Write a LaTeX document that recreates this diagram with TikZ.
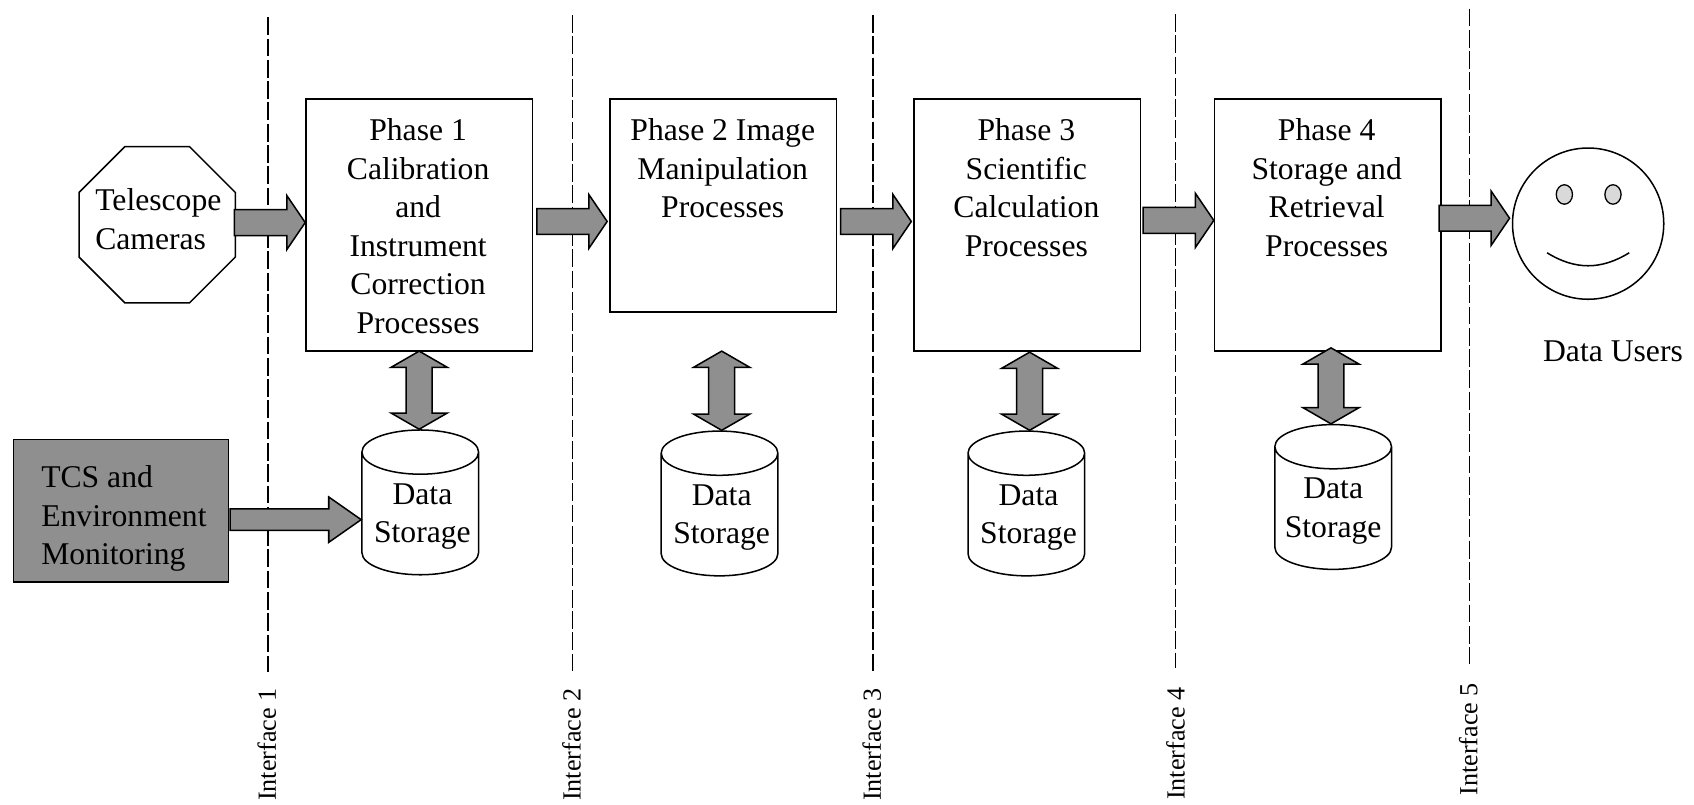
\documentclass[tikz,border=0pt]{standalone}
\usepackage{fontspec}
\setmainfont{Liberation Serif}
\usepackage{xcolor}
\usetikzlibrary{positioning}
\usetikzlibrary{calc}
\usetikzlibrary{shapes.geometric}
\definecolor{blockgray}{gray}{0.56}
\newcommand{\hblockarrow}[5]{
  \draw [blockline] let \p1=(#1), \p2=(#2) in
    (\x1,\y1+#3pt) -- (\x2-#5pt,\y1+#3pt) -- (\x2-#5pt,\y1+#4pt) -- (\x2,\y1)
    -- (\x2-#5pt,\y1-#4pt) -- (\x2-#5pt,\y1-#3pt) -- (\x1,\y1-#3pt) -- cycle;
}
\newcommand{\vblockarrow}[2]{
  \draw [blockline] let \p1=(#1), \p2=(#2) in
    (\x1,\y1) -- (\x1+26pt,\y1-15pt) -- (\x1+12pt,\y1-15pt) -- (\x1+12pt,\y2+15pt)
    -- (\x1+26pt,\y2+15pt) -- (\x1,\y2) -- (\x1-26pt,\y2+15pt) -- (\x1-12pt,\y2+15pt)
    -- (\x1-12pt,\y1-15pt) -- (\x1-26pt,\y1-15pt) -- cycle;
}

\begin{document}
\begin{tikzpicture}
  [
    x=1pt, y=-1pt,
    font=\fontsize{29.3}{35.7}\selectfont,
    phasebox/.style={
       draw=black,
       fill=white,
       line width=1.4pt,
       minimum width=209.5pt,
       anchor=north west,
       inner sep=0pt
    },
    phasetext/.style={
       align=center,
       anchor=north,
       inner sep=0pt
    },
    store/.style={
       cylinder,
       shape border rotate=90,
       shape aspect=0.74,
       anchor=shape center,
       draw=black,
       fill=white,
       line width=1.4pt,
       minimum height=134pt,
       minimum width=108pt,
       inner sep=0pt
    },
    storetext/.style={
       align=center,
       inner sep=0pt
    },
    blockline/.style={
       draw=black,
       fill=blockgray,
       line width=1.4pt,
       line join=miter
    },
    iface/.style={
       draw=black,
       line width=1.2pt,
       dash pattern=on 16.5pt off 3.2pt
    },
    ifacetext/.style={
       font=\fontsize{24.2}{29}\selectfont,
       rotate=90,
       anchor=east,
       inner sep=0pt
    },
    eye/.style={
       ellipse,
       draw=black,
       fill=black!15,
       line width=1.2pt,
       minimum width=15pt,
       minimum height=18pt,
       inner sep=0pt
    }
  ]
  \useasboundingbox (0,0) rectangle (1568,744.2);

  \coordinate (if1top) at ( 248,16);
  \coordinate (if1bot) at ( 248,622);
  \coordinate (if2top) at ( 530,14);
  \coordinate (if2bot) at ( 530,622);
  \coordinate (if3top) at ( 808,14);
  \coordinate (if3bot) at ( 808,622);
  \coordinate (if4top) at (1088,13);
  \coordinate (if4bot) at (1088,618);
  \coordinate (if5top) at (1360,8);
  \coordinate (if5bot) at (1360,615);
  \draw [iface] (if1top) -- (if1bot);
  \draw [iface] (if2top) -- (if2bot);
  \draw [iface] (if3top) -- (if3bot);
  \draw [iface] (if4top) -- (if4bot);
  \draw [iface] (if5top) -- (if5bot);

  \node (if1) at ( 247,637) [ifacetext] {Interface 1};
  \node (if2) at ( 529,637) [ifacetext] {Interface 2};
  \node (if3) at ( 807,637) [ifacetext] {Interface 3};
  \node (if4) at (1088,636) [ifacetext] {Interface 4};
  \node (if5) at (1359,632) [ifacetext] {Interface 5};

  \node (camera) at (145.5,208) [regular polygon, regular polygon sides=8, minimum size=156.5pt,
       draw=black, fill=white, line width=1.4pt, inner sep=0pt] {};
  \node (cameratext) at (88,203) [anchor=west, align=left, inner sep=0pt] {Telescope\\Cameras};

  \node (tcs) at (12,406) [anchor=north west, draw=black, fill=blockgray, line width=1.4pt,
       minimum width=199pt, minimum height=132pt, inner sep=0pt] {};
  \node (tcstext) at (38,480) [anchor=west, align=left, inner sep=0pt] {TCS and\\Environment\\Monitoring};

  \node (phase1) at ( 282.5,91) [phasebox, minimum height=233pt] {};
  \node (phase2) at ( 564,91) [phasebox, minimum height=197pt] {};
  \node (phase3) at ( 845.5,91) [phasebox, minimum height=233pt] {};
  \node (phase4) at (1123.5,91) [phasebox, minimum height=233pt] {};

  \node (phase1text) at ( 387,109.5) [phasetext] {Phase 1\\Calibration\\and\\Instrument\\Correction\\Processes};
  \node (phase2text) at ( 669,109.5) [phasetext] {Phase 2 Image\\Manipulation\\Processes};
  \node (phase3text) at ( 950,109.5) [phasetext] {Phase 3\\Scientific\\Calculation\\Processes};
  \node (phase4text) at (1228,109.5) [phasetext] {Phase 4\\Storage and\\Retrieval\\Processes};

  \node (store1) at ( 389,465) [store] {\phantom{Data}};
  \node (store2) at ( 666,466) [store] {\phantom{Data}};
  \node (store3) at ( 950,466) [store] {\phantom{Data}};
  \node (store4) at (1234,460) [store] {\phantom{Data}};

  \node (store1text) at ( 391,478) [storetext] {Data\\Storage};
  \node (store2text) at ( 668,479) [storetext] {Data\\Storage};
  \node (store3text) at ( 952,479) [storetext] {Data\\Storage};
  \node (store4text) at (1234,473) [storetext] {Data\\Storage};

  \node (users) at (1470,207) [circle, draw=black, fill=white, line width=1.4pt,
       minimum size=140pt, inner sep=0pt] {};
  \node (lefteye)  at (1448,180) [eye] {};
  \node (righteye) at (1493,180) [eye] {};
  \coordinate (mouthl) at (1432,234);
  \coordinate (mouthr) at (1508,234);
  \draw [line width=1.4pt] (mouthl) .. controls (1458,250) and (1482,250) .. (mouthr);
  \node (userstext) at (1493,325) [inner sep=0pt] {Data Users};

  \coordinate (out1) at (217,206);
  \coordinate (out2) at (497,205);
  \coordinate (out3) at (778,205);
  \coordinate (out4) at (1058,204);
  \coordinate (out5) at (1332,202);
  \coordinate (outtcs) at (213,481);
  \hblockarrow{out1}{out1 -| phase1.west}{12}{25}{17}
  \hblockarrow{out2}{$(out2 -| phase2.west)+(-2,0)$}{12}{25}{17}
  \hblockarrow{out3}{$(out3 -| phase3.west)+(-2,0)$}{12}{25}{17}
  \hblockarrow{out4}{out4 -| phase4.west}{12}{25}{17}
  \hblockarrow{out5}{$(out5 -| users.west)+(-2,0)$}{12}{25}{17}
  \hblockarrow{outtcs}{outtcs -| store1.west}{10}{21}{30}

  \coordinate (link1) at ( 388,325);
  \coordinate (link2) at ( 668,325);
  \coordinate (link3) at ( 953,326);
  \coordinate (link4) at (1232,322);
  \vblockarrow{link1}{link1 |- store1.north}
  \vblockarrow{link2}{link2 |- store2.north}
  \vblockarrow{link3}{link3 |- store3.north}
  \vblockarrow{link4}{link4 |- store4.north}
\end{tikzpicture}
\end{document}
